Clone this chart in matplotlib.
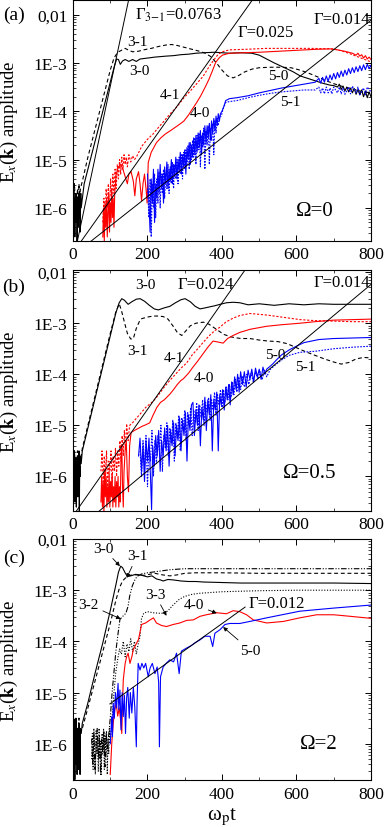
import numpy as np
import matplotlib
matplotlib.use("Agg")
import matplotlib.pyplot as plt
from matplotlib.ticker import FixedLocator, FixedFormatter, LogLocator, MultipleLocator, NullFormatter

plt.rcParams['font.family'] = ['Liberation Serif', 'DejaVu Serif']
plt.rcParams['mathtext.fontset'] = 'stix'

# ---- data: time (omega_p t) and log10 of E_x(k) amplitude ----

# panel (a), Omega = 0
a30_t = [0, 1, 2, 3, 4, 5, 6, 7, 8, 9, 10, 11, 12, 13, 14, 15, 16, 17, 18, 19, 20, 21, 22,
         30, 40, 50, 60, 70, 80, 90, 100, 110, 117, 122, 127, 133, 140, 150, 160, 170, 180,
         200, 220, 250, 270, 290, 310, 330, 350, 380, 400, 420, 450, 480, 500, 520, 540, 565,
         590, 610, 630, 650, 670, 690, 700, 710, 715, 720, 725, 730, 735, 740, 745, 750, 755,
         760, 765, 770, 775, 780, 785, 790, 795, 800]
a30_lg = [-5.9, -6.4, -5.7, -6.2, -5.8, -6.6, -5.9, -6.1, -5.7, -6.3, -5.8, -6.7, -6.0, -5.8, -6.4, -5.9, -5.7, -6.2, -5.8, -6.5, -5.9, -5.7, -6.0,
          -5.5, -5.2, -4.9, -4.6, -4.3, -4.0, -3.7, -3.4, -3.1, -2.92, -2.93, -3.03, -2.96, -2.93, -2.97, -2.93, -2.97, -2.92,
          -2.9, -2.88, -2.86, -2.85, -2.83, -2.82, -2.8, -2.79, -2.78, -2.79, -2.8, -2.79, -2.8, -2.84, -2.92, -3.0, -3.09,
          -3.18, -3.27, -3.32, -3.37, -3.42, -3.46, -3.47, -3.5, -3.44, -3.55, -3.48, -3.58, -3.5, -3.6, -3.52, -3.62, -3.53,
          -3.65, -3.55, -3.66, -3.56, -3.7, -3.58, -3.72, -3.6, -3.7]

a31_t = [0, 2, 4, 6, 8, 10, 12, 14, 16, 18, 20,
         25, 40, 60, 80, 100, 110, 120, 130, 140, 150, 160, 175, 190, 210, 230, 250, 265,
         280, 300, 320, 340, 355, 370, 385, 400, 415, 430, 445, 460, 480, 500, 530, 560,
         585, 610, 635, 660, 680, 700, 720, 740, 760, 780, 800]
a31_lg = [-5.6, -6.0, -5.5, -5.9, -5.7, -6.2, -5.6, -5.9, -5.5, -5.8, -5.6,
          -5.45, -4.95, -4.35, -3.75, -3.15, -2.9, -2.78, -2.74, -2.7, -2.74, -2.77, -2.76, -2.73, -2.7, -2.66, -2.63, -2.62,
          -2.64, -2.68, -2.72, -2.76, -2.8, -2.87, -3.0, -3.15, -3.27, -3.31, -3.26, -3.19, -3.13, -3.1, -3.09, -3.09,
          -3.1, -3.15, -3.22, -3.3, -3.37, -3.43, -3.48, -3.52, -3.56, -3.6, -3.62]

a40_t = [80, 82, 84, 86, 88, 90, 92, 94, 96, 98, 100, 102, 104, 106, 108, 110, 112,
         116, 122, 128, 134, 140, 146, 150, 156, 162, 166, 170, 176, 180, 184, 188, 192, 196, 199,
         202, 210, 224, 236, 248, 262, 275, 288, 298, 310, 320, 332, 343, 355, 365, 375, 383, 392, 401,
         420, 460, 500, 550, 600, 650, 690, 710, 730, 750, 760, 765, 770, 775, 780, 785, 790, 795, 800]
a40_lg = [-6.6, -6.0, -6.7, -5.9, -6.4, -5.8, -6.6, -6.1, -5.7, -6.5, -5.9, -6.3, -5.6, -6.2, -5.8, -6.4, -5.7,
          -5.3, -5.15, -5.1, -5.2, -5.35, -5.5, -5.3, -5.25, -5.45, -5.75, -5.4, -5.25, -5.5, -5.85, -5.5, -5.3, -5.6, -5.9,
          -5.06, -4.85, -4.65, -4.55, -4.47, -4.4, -4.33, -4.26, -4.2, -4.08, -3.96, -3.82, -3.68, -3.5, -3.34, -3.15, -2.99, -2.9, -2.84,
          -2.8, -2.79, -2.78, -2.76, -2.74, -2.72, -2.71, -2.73, -2.76, -2.8, -2.84, -2.8, -2.86, -2.83, -2.9, -2.85, -2.92, -2.88, -2.93]

a41_t = [80, 83, 86, 89, 92, 95, 98, 101, 104, 107, 110, 113, 116, 119, 122, 125, 128, 131, 134, 137,
         140, 143, 146, 150, 155, 160, 165, 170, 185, 200, 215, 230, 245, 260, 280, 298, 315, 332,
         349, 362, 376, 390, 401, 420, 460, 520, 580, 640, 700, 720, 740, 760, 780, 800]
a41_lg = [-6.3, -5.8, -6.4, -5.6, -6.0, -5.5, -6.2, -5.4, -5.9, -5.3, -5.7, -5.2, -5.6, -5.1, -5.4, -5.0, -5.3, -4.95, -5.2, -4.9,
          -5.1, -4.95, -5.15, -4.9, -5.05, -4.92, -5.0, -4.95, -4.72, -4.58, -4.47, -4.33, -4.2, -4.06, -3.9, -3.72, -3.58, -3.43,
          -3.28, -3.12, -2.96, -2.82, -2.77, -2.73, -2.72, -2.7, -2.7, -2.7, -2.71, -2.75, -2.8, -2.86, -2.92, -2.98]

a50_t = [200, 204, 207, 210, 213, 216, 219, 222, 225, 228, 231, 234, 237, 240, 243, 246, 249, 252, 255, 258,
         261, 264, 267, 270, 273, 276, 279, 282, 285, 288, 291, 294, 297, 300, 303, 306, 309, 312, 315, 318,
         321, 324, 327, 330, 333, 336, 339, 342, 345, 348, 351, 354, 357, 360, 363, 366, 369, 372, 375, 378,
         381, 384, 387, 390, 393, 396, 400, 405, 410, 420, 440, 470, 500, 530, 560, 590, 620, 650,
         660, 665, 670, 675, 680, 685, 690, 695, 700, 705, 710, 715, 720, 725, 730, 735, 740, 745, 750, 755,
         760, 765, 770, 775, 780, 785, 790, 795, 800]
a50_lg = [-5.3, -5.9, -6.5, -5.4, -5.9, -5.2, -6.3, -5.5, -5.8, -5.2, -5.7, -5.1, -5.6, -5.3, -5.9, -5.15, -5.5, -5.05, -5.6, -5.2,
          -5.45, -5.0, -5.5, -5.1, -5.35, -4.95, -5.4, -5.0, -5.25, -4.85, -5.3, -4.9, -5.15, -4.8, -5.3, -4.75, -5.0, -4.65, -5.1, -4.7,
          -4.95, -4.55, -4.9, -4.5, -4.85, -4.45, -4.75, -4.4, -4.9, -4.45, -4.7, -4.3, -4.65, -4.3, -4.55, -4.25, -4.6, -4.2, -4.45, -4.15,
          -4.4, -4.1, -4.3, -4.05, -4.2, -4.05, -4.0, -3.9, -3.78, -3.74, -3.72, -3.68, -3.62, -3.57, -3.52, -3.48, -3.44, -3.4,
          -3.32, -3.42, -3.3, -3.4, -3.27, -3.38, -3.25, -3.35, -3.22, -3.33, -3.2, -3.3, -3.17, -3.28, -3.15, -3.25, -3.12, -3.22, -3.1, -3.2,
          -3.08, -3.18, -3.06, -3.16, -3.04, -3.14, -3.03, -3.12, -3.05]

a51_t = [200, 204, 207, 210, 213, 216, 219, 222, 225, 228, 231, 234, 237, 240, 243, 246, 249, 252, 255, 258,
         261, 264, 267, 270, 273, 276, 279, 282, 285, 288, 291, 294, 297, 300, 303, 306, 309, 312, 315, 318,
         321, 324, 327, 330, 333, 336, 339, 342, 345, 348, 351, 354, 357, 360, 363, 366, 369, 372, 375, 378,
         381, 384, 387, 390, 394, 398, 403, 410, 420, 440, 470, 500, 530, 560, 590, 620, 650,
         660, 665, 670, 675, 680, 685, 690, 695, 700, 710, 715, 720, 725, 730, 740, 745, 750, 760, 765, 770, 780, 785, 790, 800]
a51_lg = [-5.6, -6.2, -5.4, -6.6, -5.5, -6.0, -5.3, -6.2, -5.4, -5.9, -5.25, -6.0, -5.3, -5.7, -5.2, -5.8, -5.3, -5.6, -5.1, -5.7,
          -5.15, -5.5, -5.05, -5.6, -5.1, -5.4, -5.0, -5.5, -4.95, -5.3, -4.9, -5.4, -4.85, -5.2, -4.8, -5.1, -4.7, -5.2, -4.65, -5.0,
          -4.6, -4.95, -4.55, -5.1, -4.5, -4.8, -4.45, -5.15, -4.5, -4.75, -4.35, -5.2, -4.4, -4.7, -4.3, -5.1, -4.35, -4.6, -4.25, -4.9,
          -4.2, -4.45, -4.15, -4.3, -4.1, -4.1, -3.95, -3.82, -3.8, -3.78, -3.72, -3.67, -3.63, -3.6, -3.58, -3.56, -3.56,
          -3.5, -3.62, -3.52, -3.64, -3.5, -3.62, -3.52, -3.64, -3.5, -3.62, -3.5, -3.64, -3.52, -3.65, -3.5, -3.64, -3.48, -3.62, -3.5, -3.66, -3.52, -3.66, -3.5, -3.6]

# panel (b), Omega = 0.5
b30_t = [0, 1, 2, 3, 4, 5, 6, 7, 8, 9, 10, 11, 12, 13, 14, 15, 16, 17, 18, 19, 20, 22,
         25, 40, 60, 80, 100, 115, 124, 131, 138, 148, 158, 170, 180, 192, 205, 218, 229, 245, 260, 275,
         290, 301, 315, 328, 341, 355, 367, 380, 395, 412, 430, 448, 470, 500, 540, 580, 620, 660, 700, 750, 800]
b30_lg = [-5.8, -6.3, -5.6, -6.1, -5.5, -6.5, -5.9, -6.2, -5.7, -6.6, -5.8, -6.0, -5.6, -6.4, -5.7, -6.2, -5.5, -6.7, -5.8, -6.0, -5.6, -5.75,
          -5.5, -5.05, -4.45, -3.85, -3.25, -2.8, -2.6, -2.52, -2.55, -2.63, -2.58, -2.53, -2.52, -2.57, -2.65, -2.72, -2.74, -2.7, -2.67, -2.6,
          -2.54, -2.52, -2.58, -2.67, -2.72, -2.7, -2.68, -2.66, -2.63, -2.6, -2.59, -2.6, -2.64, -2.62, -2.65, -2.62, -2.64, -2.62, -2.63, -2.63, -2.63]

b31_t = [0, 2, 4, 6, 8, 10, 12, 14, 16, 18, 20,
         25, 40, 60, 80, 100, 115, 124, 130, 138, 146, 155, 162, 170, 178, 185, 200, 215, 228, 242,
         255, 268, 280, 292, 303, 315, 330, 350, 365, 385, 405, 425, 450, 475, 500, 525, 550,
         575, 600, 625, 650, 675, 700, 720, 740, 760, 780, 800]
b31_lg = [-5.6, -6.1, -5.5, -5.9, -5.6, -6.3, -5.5, -5.8, -5.6, -6.0, -5.7,
          -5.45, -5.0, -4.4, -3.8, -3.2, -2.78, -2.62, -2.75, -2.98, -3.2, -3.31, -3.3, -3.1, -2.97, -2.91, -2.88, -2.86, -2.86, -2.87,
          -2.92, -3.05, -3.18, -3.24, -3.15, -3.05, -3.0, -2.98, -3.02, -3.12, -3.22, -3.27, -3.3, -3.3, -3.33, -3.35, -3.36,
          -3.4, -3.48, -3.56, -3.63, -3.7, -3.76, -3.8, -3.77, -3.7, -3.67, -3.68]

b40_t = [75, 77, 79, 81, 83, 85, 87, 89, 91, 93, 95, 97, 99, 101, 103, 105, 107, 109, 111, 113,
         115, 117, 119, 121, 123, 125, 127, 129, 131, 133, 135, 137, 140, 143, 146, 149, 152, 156,
         165, 175, 185, 195, 206, 215, 225, 235, 245, 260, 270, 280, 290, 296, 310, 322, 335, 349,
         362, 376, 390, 403, 415, 430, 448, 475, 520, 560, 610, 650, 700, 750, 800]
b40_lg = [-6.5, -6.0, -6.6, -6.1, -6.7, -5.9, -6.4, -6.0, -6.6, -6.2, -6.5, -5.9, -6.6, -6.1, -6.4, -5.95, -6.6, -6.2, -6.5, -6.0,
          -6.6, -6.1, -6.4, -6.0, -6.6, -6.2, -6.5, -5.6, -5.4, -6.2, -6.6, -5.9, -5.5, -5.3, -6.0, -6.3, -5.4, -5.14,
          -5.1, -5.06, -5.02, -4.99, -4.95, -4.8, -4.65, -4.55, -4.5, -4.39, -4.3, -4.2, -4.12, -4.09, -3.98, -3.86, -3.74, -3.6,
          -3.47, -3.35, -3.37, -3.39, -3.3, -3.24, -3.18, -3.12, -3.06, -3.03, -3.0, -2.97, -2.94, -2.93, -2.92]

b41_t = [75, 78, 81, 84, 87, 90, 93, 96, 99, 102, 105, 108, 111, 114, 117, 120, 123, 126, 129, 132,
         135, 138, 141, 144, 148, 152, 160, 168, 180, 195, 215, 230, 245, 260, 275, 290, 305, 320,
         335, 349, 365, 380, 394, 410, 430, 448, 475, 520, 560, 610, 650, 700, 750, 800]
b41_lg = [-5.9, -5.5, -6.1, -5.6, -6.0, -5.5, -6.2, -5.7, -5.9, -5.5, -6.1, -5.6, -5.9, -5.45, -6.0, -5.5, -5.8, -5.3, -5.7, -5.2,
          -5.6, -5.1, -5.5, -4.97, -5.3, -5.0, -4.95, -4.88, -4.78, -4.65, -4.53, -4.4, -4.25, -4.12, -4.0, -3.88, -3.78, -3.62,
          -3.5, -3.38, -3.25, -3.15, -3.08, -2.98, -2.9, -2.85, -2.81, -2.84, -2.88, -2.93, -2.95, -2.96, -2.97, -2.97]

b50_t = [176, 180, 184, 188, 192, 196, 200, 204, 208, 211, 214, 218, 222, 226, 230, 234, 238, 242, 246, 250,
         254, 258, 262, 266, 270, 274, 278, 282, 286, 290, 294, 298, 302, 306, 310, 314, 318, 322, 326, 330,
         334, 338, 342, 346, 350, 354, 358, 362, 366, 370, 374, 378, 382, 386, 390, 394, 398, 402, 406, 410,
         414, 418, 422, 426, 430, 434, 438, 442, 446, 450, 455, 460, 465, 470, 475, 480, 485, 490, 495, 500,
         505, 510, 515, 520, 528, 536, 546, 560, 581, 600, 620, 640, 660, 700, 750, 800]
b50_lg = [-5.6, -5.25, -5.9, -5.4, -6.1, -5.3, -5.7, -5.25, -6.0, -6.65, -5.4, -5.8, -5.2, -5.6, -5.1, -5.9, -5.3, -5.6, -5.05, -5.5,
          -5.0, -5.8, -5.1, -5.4, -4.95, -5.6, -5.0, -5.3, -4.85, -5.5, -4.9, -5.2, -4.75, -5.7, -4.8, -5.1, -4.6, -4.55, -5.2, -4.7,
          -5.0, -4.6, -5.4, -4.65, -4.9, -4.45, -5.1, -4.5, -4.8, -4.4, -5.5, -4.5, -4.7, -4.35, -5.5, -4.4, -4.6, -4.3, -4.7, -4.25,
          -4.5, -4.2, -4.6, -4.15, -4.4, -4.05, -4.3, -4.0, -4.35, -3.95, -4.2, -3.95, -4.25, -3.92, -4.1, -3.9, -4.15, -3.88, -4.05, -3.9,
          -4.1, -3.86, -4.0, -3.9, -3.85, -3.8, -3.72, -3.62, -3.52, -3.45, -3.38, -3.35, -3.32, -3.3, -3.29, -3.28]

b51_t = [180, 184, 188, 192, 196, 200, 204, 208, 212, 216, 220, 224, 228, 232, 236, 240, 244, 248, 252, 256,
         260, 264, 268, 272, 276, 280, 284, 288, 292, 296, 300, 304, 308, 312, 316, 320, 324, 328, 332, 336,
         340, 344, 348, 352, 356, 360, 364, 368, 372, 376, 380, 384, 388, 392, 396, 400, 404, 408, 412, 416,
         420, 424, 428, 432, 436, 440, 445, 450, 455, 460, 466, 472, 478, 484, 490, 496, 502, 508, 514, 520,
         530, 546, 560, 580, 609, 650, 700, 750, 800]
b51_lg = [-5.5, -6.0, -5.3, -5.8, -5.2, -6.2, -5.4, -5.7, -5.1, -6.0, -5.3, -5.75, -5.2, -5.5, -5.0, -5.9, -5.2, -5.45, -4.95, -5.6,
          -5.05, -5.35, -4.9, -5.7, -4.95, -5.25, -4.8, -5.5, -4.85, -5.1, -4.7, -5.3, -4.75, -5.0, -4.65, -5.2, -4.7, -4.95, -4.55, -5.1,
          -4.6, -4.85, -4.5, -5.0, -4.55, -4.75, -4.45, -4.9, -4.5, -4.7, -4.35, -4.8, -4.4, -4.6, -4.3, -4.65, -4.3, -4.55, -4.25, -4.5,
          -4.2, -4.45, -4.15, -4.4, -4.1, -4.35, -4.05, -4.3, -4.05, -4.25, -4.0, -4.2, -3.98, -4.15, -3.95, -4.1, -3.95, -4.1, -3.92, -4.05,
          -3.9, -3.8, -3.72, -3.63, -3.57, -3.55, -3.5, -3.47, -3.45]

# panel (c), Omega = 2
c30_t = [0, 1, 2, 3, 4, 5, 6, 7, 8, 9, 10, 11, 12, 13, 14, 15, 16, 17, 18, 19, 20, 22,
         25, 40, 60, 80, 100, 115, 122, 128, 133, 140, 146, 155, 168, 185, 200, 212, 224, 235, 242,
         255, 270, 290, 310, 330, 350, 400, 450, 500, 600, 700, 800]
c30_lg = [-6.0, -6.5, -5.7, -6.3, -5.6, -6.7, -5.9, -6.2, -5.5, -6.4, -5.8, -6.6, -5.7, -6.1, -5.9, -6.5, -5.6, -6.2, -5.8, -6.6, -5.7, -5.8,
          -5.6, -5.2, -4.6, -4.03, -3.4, -2.9, -2.65, -2.53, -2.56, -2.66, -2.73, -2.72, -2.69, -2.71, -2.74, -2.72, -2.78, -2.8, -2.82,
          -2.79, -2.8, -2.82, -2.83, -2.83, -2.84, -2.85, -2.86, -2.86, -2.86, -2.86, -2.87]

c31_t = [0, 2, 4, 6, 8, 10, 12, 14, 16, 18, 20,
         25, 40, 60, 80, 100, 115, 125, 133, 141, 150, 160, 175, 190, 205, 220, 240, 260, 280, 300,
         330, 360, 400, 500, 600, 700, 800]
c31_lg = [-5.7, -6.1, -5.5, -6.0, -5.6, -6.3, -5.7, -5.9, -5.5, -6.1, -5.8,
          -5.7, -5.3, -4.75, -4.2, -3.65, -3.2, -2.95, -2.82, -2.76, -2.72, -2.7, -2.7, -2.71, -2.69, -2.67, -2.7, -2.72, -2.7, -2.67,
          -2.66, -2.66, -2.66, -2.67, -2.67, -2.67, -2.67]

c32_t = [50, 53, 56, 59, 62, 65, 68, 71, 74, 77, 80, 83, 86, 89, 92, 95,
         100, 105, 110, 115, 120, 126, 135, 142, 148, 152, 159, 166, 172, 185, 200, 230, 260, 300, 400, 500, 600, 700, 800]
c32_lg = [-5.9, -6.4, -5.8, -6.5, -6.0, -5.7, -6.3, -5.85, -6.6, -5.9, -6.2, -5.75, -6.45, -5.8, -6.1, -5.9,
          -5.5, -5.0, -4.6, -4.2, -3.9, -3.57, -3.5, -3.45, -3.31, -3.12, -2.92, -2.8, -2.73, -2.68, -2.66, -2.63, -2.6, -2.58,
          -2.58, -2.58, -2.58, -2.58, -2.58]

c33_t = [50, 52, 54, 56, 58, 60, 62, 64, 66, 68, 70, 72, 74, 76, 78, 80, 82, 84, 86, 88, 90, 92, 94, 96, 98, 100,
         105, 110, 115, 120, 125, 130, 135, 140, 145, 150, 155, 160, 165, 170, 175, 180, 184, 190, 200, 215,
         230, 245, 255, 270, 285, 300, 320, 340, 360, 400, 450, 500, 600, 700, 800]
c33_lg = [-6.3, -5.8, -6.5, -5.7, -6.1, -6.6, -5.75, -6.2, -5.9, -6.55, -5.7, -6.3, -5.95, -6.6, -5.8, -6.15, -5.7, -6.5, -5.85, -6.25,
          -5.75, -6.6, -5.9, -6.2, -5.7, -6.0,
          -5.5, -5.0, -4.6, -4.35, -4.15, -4.25, -4.0, -4.3, -4.05, -4.2, -3.95, -4.2, -4.0, -4.25, -4.05, -3.9, -3.55, -3.45, -3.42, -3.44,
          -3.45, -3.45, -3.4, -3.28, -3.18, -3.12, -3.08, -3.06, -3.05, -3.03, -3.02, -3.01, -3.0, -3.0, -3.0]

c40_t = [100, 102, 104, 106, 108, 112, 116, 120, 124, 128, 131, 133, 135, 140, 144, 148, 153, 158, 162, 171,
         176, 184, 195, 207, 216, 224, 238, 251, 269, 287, 305, 323, 341, 358, 385, 412, 430, 448, 466, 484,
         520, 565, 609, 654, 700, 744, 800]
c40_lg = [-6.6, -6.3, -6.0, -5.8, -5.6, -5.35, -5.2, -5.46, -5.3, -5.55, -5.8, -5.2, -4.75, -4.43, -4.3, -4.23, -4.43, -4.3, -4.16, -4.03,
          -3.96, -3.67, -3.64, -3.58, -3.54, -3.64, -3.69, -3.71, -3.67, -3.64, -3.59, -3.58, -3.51, -3.48, -3.44, -3.46, -3.4, -3.42, -3.48, -3.58,
          -3.64, -3.61, -3.54, -3.48, -3.48, -3.51, -3.55]

c50_t = [100, 104, 106, 108, 111, 114, 117, 121, 123, 126, 129, 132, 135, 138, 141, 144, 147, 151, 154, 158,
         162, 166, 170, 172, 175, 180, 185, 190, 195, 202, 207, 213, 220, 226, 230, 232, 235, 242, 250, 260,
         270, 278, 285, 291, 305, 318, 327, 341, 354, 368, 375, 381, 395, 408, 421, 448, 475, 520, 609, 699, 800]
c50_lg = [-6.0, -5.47, -5.86, -5.21, -5.5, -5.0, -5.3, -4.82, -5.34, -4.95, -5.73, -5.0, -5.47, -5.05, -5.8, -5.1, -4.9, -5.5, -5.0, -5.4,
          -4.9, -5.3, -6.06, -5.2, -4.43, -4.56, -4.43, -4.52, -4.43, -4.69, -4.52, -4.43, -4.63, -4.5, -4.8, -6.06, -4.69, -4.5, -4.43, -4.36,
          -4.4, -4.23, -4.63, -4.19, -4.13, -4.08, -4.03, -3.97, -3.9, -3.9, -4.1, -3.84, -3.77, -3.67, -3.65, -3.65, -3.61, -3.54, -3.41, -3.35, -3.29]

# exponential fits: growth rate used for the drawn line, anchor time, anchor amplitude, t range
fits_a = [(0.0835, 12, 2.1e-7, 0, 800), (0.025, 23, 2.1e-7, 0, 800), (0.014, 50, 2.1e-7, 0, 800)]
fits_b = [(0.024, 10, 2.15e-7, 0, 800), (0.014, 72, 2.15e-7, 0, 800)]
fits_c = [(0.012, 99, 6e-6, 99, 462)]

ytick_vals = [1e-2, 1e-3, 1e-4, 1e-5, 1e-6]
ytick_labels = ['0,01', '1E-3', '1E-4', '1E-5', '1E-6']

RED, BLUE = '#ff0000', '#0000ff'
styles = {
    '3-0': dict(color='k', ls='-'),
    '3-1': dict(color='k', ls=(0, (3.5, 2.5))),
    '3-2': dict(color='k', ls=(0, (5, 1.5, 1, 1.5, 1, 1.5))),
    '3-3': dict(color='k', ls=(0, (1, 1.5))),
    '4-0': dict(color=RED, ls='-'),
    '4-1': dict(color=RED, ls=(0, (2, 1.5))),
    '5-0': dict(color=BLUE, ls='-'),
    '5-1': dict(color=BLUE, ls=(0, (1.5, 1.2))),
}

panels = [
    dict(box=(0.1896, 0.7081, 0.774, 0.2907), ylim=(2.1e-7, 0.02), tag='(a)', tag_y=0.982,
         curves=[('3-0', a30_t, a30_lg), ('3-1', a31_t, a31_lg), ('4-0', a40_t, a40_lg),
                 ('4-1', a41_t, a41_lg), ('5-0', a50_t, a50_lg), ('5-1', a51_t, a51_lg)],
         fits=fits_a),
    dict(box=(0.1896, 0.3822, 0.774, 0.2905), ylim=(2.15e-7, 0.011), tag='(b)', tag_y=0.653,
         curves=[('3-0', b30_t, b30_lg), ('3-1', b31_t, b31_lg), ('4-0', b40_t, b40_lg),
                 ('4-1', b41_t, b41_lg), ('5-0', b50_t, b50_lg), ('5-1', b51_t, b51_lg)],
         fits=fits_b),
    dict(box=(0.1896, 0.0568, 0.774, 0.291), ylim=(1.96e-7, 0.01), tag='(c)', tag_y=0.326,
         curves=[('3-0', c30_t, c30_lg), ('3-1', c31_t, c31_lg), ('3-2', c32_t, c32_lg),
                 ('3-3', c33_t, c33_lg), ('4-0', c40_t, c40_lg), ('5-0', c50_t, c50_lg)],
         fits=fits_c),
]

fig = plt.figure(figsize=(3.85, 8.28), dpi=100)
axes = []
for p in panels:
    ax = fig.add_axes(p['box'])
    axes.append(ax)
    for name, t, lg in p['curves']:
        ax.plot(t, 10 ** np.array(lg), lw=0.8, **styles[name])
    for g, t0, e0, ts, te in p['fits']:
        ax.plot([ts, te], [e0 * np.exp(g * (ts - t0)), e0 * np.exp(g * (te - t0))], color='k', lw=0.7)
    ax.set_yscale('log')
    ax.set_xlim(0, 800)
    ax.set_ylim(*p['ylim'])
    ax.yaxis.set_major_locator(FixedLocator(ytick_vals))
    ax.yaxis.set_major_formatter(FixedFormatter(ytick_labels))
    ax.yaxis.set_minor_locator(LogLocator(base=10, subs=np.arange(2, 10), numticks=20))
    ax.yaxis.set_minor_formatter(NullFormatter())
    ax.xaxis.set_major_locator(MultipleLocator(200))
    ax.xaxis.set_minor_locator(MultipleLocator(100))
    ax.tick_params(which='both', direction='in', top=True, right=True, labelsize=12.5, pad=4)
    ax.tick_params(which='major', length=4, width=0.7)
    ax.tick_params(which='minor', length=2, width=0.5)
    for s in ax.spines.values():
        s.set_linewidth(0.8)
    ax.set_ylabel(r'E$_x$($\mathbf{k}$) amplitude', fontsize=13.5)
    ax.yaxis.set_label_coords(-0.178, 0.5)
    fig.text(0.036, p['tag_y'], p['tag'], fontsize=14, ha='center', va='center')

ax_a, ax_b, ax_c = axes
fs = 11
# panel (a) annotations
ax_a.text(172, 10 ** -2.55, '3-1', fontsize=fs, ha='center', va='center')
ax_a.text(178, 10 ** -3.15, '3-0', fontsize=fs, ha='center', va='center')
ax_a.text(260, 10 ** -3.65, '4-1', fontsize=fs, ha='center', va='center')
ax_a.text(341, 10 ** -4.03, '4-0', fontsize=fs, ha='center', va='center')
ax_a.text(550, 10 ** -3.27, '5-0', fontsize=fs, ha='center', va='center')
ax_a.text(583, 10 ** -3.79, '5-1', fontsize=fs, ha='center', va='center')
ax_a.text(166, 10 ** -1.99, r'Γ$_{3\mathrm{-}1}$=0.0763', fontsize=12, ha='left', va='center')
ax_a.text(443, 10 ** -2.36, 'Γ=0.025', fontsize=12, ha='left', va='center')
ax_a.text(797, 10 ** -2.1, 'Γ=0.014', fontsize=12, ha='right', va='center')
ax_a.text(650, 10 ** -6.06, 'Ω=0', fontsize=15, ha='center', va='center')

# panel (b) annotations
ax_b.text(195, 10 ** -2.245, '3-0', fontsize=fs, ha='center', va='center')
ax_b.text(280, 10 ** -2.24, 'Γ=0.024', fontsize=12, ha='left', va='center')
ax_b.text(797, 10 ** -2.2, 'Γ=0.014', fontsize=12, ha='right', va='center')
ax_b.text(172, 10 ** -3.53, '3-1', fontsize=fs, ha='center', va='center')
ax_b.text(271, 10 ** -3.67, '4-1', fontsize=fs, ha='center', va='center')
ax_b.text(352, 10 ** -4.06, '4-0', fontsize=fs, ha='center', va='center')
ax_b.text(542, 10 ** -3.61, '5-0', fontsize=fs, ha='center', va='center')
ax_b.text(623, 10 ** -3.84, '5-1', fontsize=fs, ha='center', va='center')
ax_b.text(636, 10 ** -5.92, 'Ω=0.5', fontsize=15, ha='center', va='center')

# panel (c) annotations with arrows
arrow = dict(arrowstyle='-|>', lw=0.6, color='k', mutation_scale=6, shrinkA=1, shrinkB=0)
ax_c.annotate('3-0', xy=(126, 10 ** -2.53), xytext=(81, 10 ** -2.18), fontsize=fs,
              ha='center', va='center', arrowprops=arrow)
ax_c.annotate('3-1', xy=(144, 10 ** -2.76), xytext=(172, 10 ** -2.33), fontsize=fs,
              ha='center', va='center', arrowprops=arrow)
ax_c.annotate('3-2', xy=(128, 10 ** -3.56), xytext=(42, 10 ** -3.28), fontsize=fs,
              ha='center', va='center', arrowprops=arrow)
ax_c.annotate('3-3', xy=(251, 10 ** -3.5), xytext=(220, 10 ** -3.08), fontsize=fs,
              ha='center', va='center', arrowprops=arrow)
ax_c.annotate('4-0', xy=(386, 10 ** -3.45), xytext=(325, 10 ** -3.28), fontsize=fs,
              ha='center', va='center', arrowprops=arrow)
ax_c.annotate('5-0', xy=(403, 10 ** -3.72), xytext=(475, 10 ** -4.17), fontsize=fs,
              ha='center', va='center', arrowprops=arrow)
ax_c.text(470, 10 ** -3.25, 'Γ=0.012', fontsize=12, ha='left', va='center')
ax_c.text(660, 10 ** -6.0, 'Ω=2', fontsize=15, ha='center', va='center')
ax_c.set_xlabel(r'ω$_\mathrm{p}$t', fontsize=15, labelpad=3)

fig.savefig('out.png', dpi=100)
